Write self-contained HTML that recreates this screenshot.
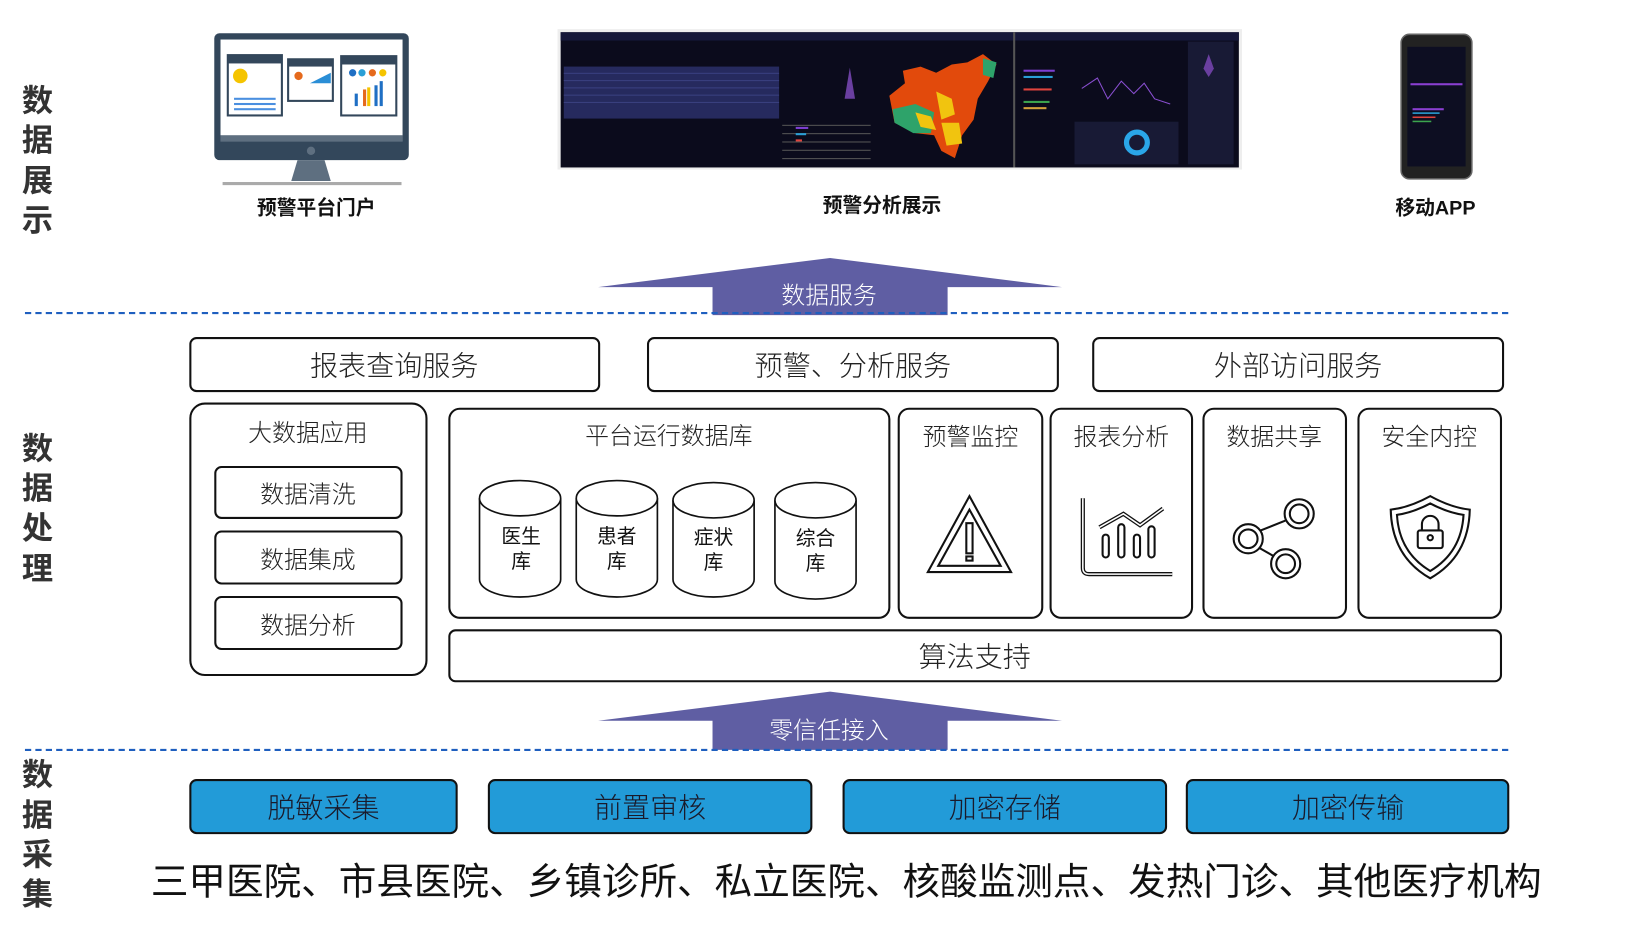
<!DOCTYPE html>
<html><head><meta charset="utf-8"><style>
html,body{margin:0;padding:0;background:#fff;}
svg{display:block;}
text{font-family:"Liberation Sans","Noto Sans CJK SC",sans-serif;}
.l{font-weight:300;}
</style></head><body>
<svg width="1631" height="934" viewBox="0 0 1568 898" preserveAspectRatio="none" xmlns="http://www.w3.org/2000/svg">
<rect width="1568" height="898" fill="#fff"/>
<g font-size="30" font-weight="bold" fill="#333" text-anchor="middle">
<text x="36" y="107">数</text><text x="36" y="145">据</text><text x="36" y="184">展</text><text x="36" y="222">示</text>
<text x="36" y="442">数</text><text x="36" y="480">据</text><text x="36" y="518">处</text><text x="36" y="557">理</text>
<text x="36" y="755">数</text><text x="36" y="794">据</text><text x="36" y="832">采</text><text x="36" y="870">集</text>
</g>
<!-- monitor -->
<rect x="206" y="32" width="187" height="122" rx="5" fill="#33475b"/>
<rect x="212" y="38" width="175" height="98" fill="#fff"/>
<rect x="212" y="130" width="175" height="6" fill="#5e6f80"/>
<circle cx="299" cy="145" r="4" fill="#5e6f80"/>
<path d="M286 154 L312 154 L318 174 L280 174 Z" fill="#5e6f80"/>
<rect x="214" y="175" width="172" height="3" fill="#aaa"/>
<rect x="219" y="53" width="52" height="58" fill="#fff" stroke="#33475b" stroke-width="2"/>
<rect x="219" y="53" width="52" height="8" fill="#33475b"/>
<circle cx="231" cy="73" r="7" fill="#f5c400"/>
<g fill="#4a8fe0"><rect x="225" y="94" width="40" height="2"/><rect x="225" y="99" width="40" height="2"/><rect x="225" y="104" width="40" height="2"/></g>
<rect x="277" y="57" width="43" height="40" fill="#fff" stroke="#33475b" stroke-width="2"/>
<rect x="277" y="57" width="43" height="7" fill="#33475b"/>
<path d="M298 80 L318 70 L318 80 Z" fill="#2a8ed6"/>
<circle cx="287" cy="73" r="4" fill="#e56a1d"/>
<rect x="328" y="54" width="53" height="57" fill="#fff" stroke="#33475b" stroke-width="2"/>
<rect x="328" y="54" width="53" height="8" fill="#33475b"/>
<g fill="#1f6fc4"><rect x="341" y="90" width="3" height="12"/><rect x="349" y="86" width="3" height="16" fill="#e56a1d"/><rect x="353" y="84" width="3" height="18" fill="#f5c400"/><rect x="360" y="82" width="3" height="20"/><rect x="365" y="78" width="3" height="24"/></g>
<g fill="#1f6fc4"><circle cx="339" cy="70" r="3.5"/><circle cx="348" cy="70" r="3.5" fill="#2a9fd6"/><circle cx="358" cy="70" r="3.5" fill="#e56a1d"/><circle cx="368" cy="70" r="3.5" fill="#f5c400"/></g>
<text x="304" y="206" font-size="19" font-weight="bold" text-anchor="middle" fill="#111">预警平台门户</text>
<!-- dashboard -->
<rect x="536" y="28" width="658" height="135" fill="#ddd" opacity="0.5"/>
<rect x="539" y="31" width="652" height="130" fill="#0b0b1c"/>
<rect x="539" y="31" width="652" height="8" fill="#16183a"/>
<rect x="542" y="64" width="207" height="50" fill="#262a5e"/>
<g fill="#3a4080"><rect x="542" y="70" width="207" height="1"/><rect x="542" y="77" width="207" height="1"/><rect x="542" y="84" width="207" height="1"/><rect x="542" y="91" width="207" height="1"/><rect x="542" y="98" width="207" height="1"/></g>
<rect x="974" y="31" width="2" height="130" fill="#555"/>
<g fill="#555"><rect x="752" y="120" width="85" height="1"/><rect x="752" y="128" width="85" height="1"/><rect x="752" y="136" width="85" height="1"/><rect x="752" y="144" width="85" height="1"/><rect x="752" y="152" width="85" height="1"/></g>
<path d="M855 92 L870 80 L868 68 L885 64 L900 70 L915 62 L930 60 L945 52 L958 62 L950 78 L940 95 L936 115 L925 130 L918 152 L905 145 L898 130 L880 128 L860 118 Z" fill="#e24a0c"/>
<path d="M858 105 L880 100 L898 108 L895 128 L878 128 L860 118 Z" fill="#2ea36a"/>
<path d="M900 88 L915 95 L918 110 L905 115 Z" fill="#f1c40f"/>
<path d="M945 56 L958 60 L955 75 L945 72 Z" fill="#2ea36a"/>
<path d="M905 118 L922 118 L925 138 L910 140 Z" fill="#f1c40f"/>
<path d="M880 108 L895 112 L900 125 L885 122 Z" fill="#f1c40f"/>
<g fill="#7d3fd1"><rect x="765" y="122" width="12" height="2"/><rect x="984" y="67" width="30" height="2"/></g>
<g fill="#2a9fd6"><rect x="765" y="128" width="10" height="2"/><rect x="984" y="73" width="28" height="2"/></g>
<g fill="#e0443e"><rect x="984" y="85" width="27" height="2"/><rect x="765" y="134" width="6" height="2"/></g>
<g fill="#3ca44e"><rect x="984" y="97" width="25" height="2"/></g>
<g fill="#d4a23b"><rect x="984" y="103" width="22" height="2"/></g>
<rect x="1142" y="40" width="44" height="118" fill="#181a35"/>
<rect x="1033" y="117" width="100" height="41" fill="#181a35"/>
<circle cx="1093" cy="137" r="10" fill="none" stroke="#2aa6e8" stroke-width="5"/>
<path d="M1040 85 L1055 75 L1065 95 L1078 78 L1090 90 L1100 80 L1110 95 L1125 100" stroke="#8a4fd1" fill="none" stroke-width="1"/>
<path d="M1162 52 L1167 66 L1162 74 L1157 66 Z" fill="#6a3fa0"/>
<path d="M817 65 L822 95 L812 95 Z" fill="#6a3fa0"/>
<text x="848" y="204" font-size="19" font-weight="bold" text-anchor="middle" fill="#111">预警分析展示</text>
<!-- phone -->
<rect x="1347" y="33" width="68" height="139" rx="8" fill="#222" stroke="#666" stroke-width="1.5"/>
<rect x="1353" y="45" width="56" height="115" fill="#0d0e22"/>
<g fill="#8a3fd1"><rect x="1356" y="80" width="50" height="2"/><rect x="1358" y="104" width="30" height="2"/></g>
<rect x="1358" y="108" width="26" height="1.5" fill="#2a9fd6"/>
<rect x="1358" y="112" width="22" height="1.5" fill="#e0443e"/>
<rect x="1358" y="116" width="18" height="1.5" fill="#3ca44e"/>
<text x="1380" y="206" font-size="19" font-weight="bold" text-anchor="middle" fill="#111">移动APP</text>
<path d="M575 276 L798 248 L1021 276 L911 276 L911 303 L685 303 L685 276 Z" fill="#5f5ea3"/>
<text x="797" y="292" font-size="23" fill="#fff" text-anchor="middle" class="l">数据服务</text>
<line x1="24" y1="301" x2="1450" y2="301" stroke="#1f5fbf" stroke-width="2" stroke-dasharray="6,4"/>
<g fill="#fff" stroke="#111" stroke-width="2">
<rect x="183" y="325" width="393" height="51" rx="6"/>
<rect x="623" y="325" width="394" height="51" rx="6"/>
<rect x="1051" y="325" width="394" height="51" rx="6"/>
<rect x="183" y="388" width="227" height="261" rx="14"/>
<rect x="207" y="449" width="179" height="49" rx="6"/>
<rect x="207" y="511" width="179" height="50" rx="6"/>
<rect x="207" y="574" width="179" height="50" rx="6"/>
<rect x="432" y="393" width="423" height="201" rx="10"/>
<rect x="864" y="393" width="138" height="201" rx="10"/>
<rect x="1010" y="393" width="136" height="201" rx="10"/>
<rect x="1157" y="393" width="137" height="201" rx="10"/>
<rect x="1306" y="393" width="137" height="201" rx="10"/>
<rect x="432" y="606" width="1011" height="49" rx="6"/>
</g>
<g font-size="27" fill="#222" text-anchor="middle" class="l">
<text x="379" y="361">报表查询服务</text>
<text x="820" y="361">预警、分析服务</text>
<text x="1248" y="361">外部访问服务</text>
<text x="937" y="641">算法支持</text>
</g>
<g font-size="23" fill="#222" text-anchor="middle" class="l">
<text x="296" y="424">大数据应用</text>
<text x="296" y="483">数据清洗</text>
<text x="296" y="546">数据集成</text>
<text x="296" y="609">数据分析</text>
<text x="643" y="427">平台运行数据库</text>
<text x="933" y="428">预警监控</text>
<text x="1078" y="428">报表分析</text>
<text x="1225" y="428">数据共享</text>
<text x="1374" y="428">安全内控</text>
</g>
<g fill="#fff" stroke="#111" stroke-width="1.6">
<path d="M461 479 L461 557 A39 17 0 0 0 539 557 L539 479"/><ellipse cx="500" cy="479" rx="39" ry="17"/>
<path d="M554 479 L554 557 A39 17 0 0 0 632 557 L632 479"/><ellipse cx="593" cy="479" rx="39" ry="17"/>
<path d="M647 481 L647 557 A39 17 0 0 0 725 557 L725 481"/><ellipse cx="686" cy="481" rx="39" ry="17"/>
<path d="M745 481 L745 559 A39 17 0 0 0 823 559 L823 481"/><ellipse cx="784" cy="481" rx="39" ry="17"/>
</g>
<g font-size="19" fill="#111" text-anchor="middle">
<text x="501" y="522">医生</text><text x="501" y="546">库</text>
<text x="593" y="522">患者</text><text x="593" y="546">库</text>
<text x="686" y="523">症状</text><text x="686" y="547">库</text>
<text x="784" y="524">综合</text><text x="784" y="548">库</text>
</g>
<g fill="none" stroke="#111" stroke-width="2">
<path d="M932 477 L972 550 L892 550 Z"/><path d="M932 490 L962 544 L902 544 Z"/>
<rect x="929" y="503" width="6" height="29"/><rect x="929" y="535" width="6" height="4"/>
<path d="M1041 479 L1041 546 Q1041 552 1047 552 L1127 552" stroke-width="4"/><path d="M1041 479 L1041 546 Q1041 552 1047 552 L1127 552" stroke="#fff" stroke-width="1.5"/>
<path d="M1057 507 L1080 494 L1096 505 L1118 489" stroke-width="4"/><path d="M1057 507 L1080 494 L1096 505 L1118 489" stroke="#fff" stroke-width="1.5"/>
<rect x="1060" y="514" width="6" height="22" rx="3"/><rect x="1075" y="504" width="6" height="32" rx="3"/><rect x="1090" y="514" width="6" height="22" rx="3"/><rect x="1104" y="506" width="6" height="30" rx="3"/>
<circle cx="1249" cy="494" r="14"/><circle cx="1249" cy="494" r="9"/>
<circle cx="1200" cy="518" r="14"/><circle cx="1200" cy="518" r="9"/>
<circle cx="1236" cy="542" r="14"/><circle cx="1236" cy="542" r="9"/>
<line x1="1212" y1="510" x2="1237" y2="500"/><line x1="1211" y1="527" x2="1225" y2="535"/>
<path d="M1375 477 Q1395 488 1413 490 Q1412 535 1375 556 Q1338 535 1337 490 Q1355 488 1375 477 Z"/>
<path d="M1375 484 Q1392 493 1407 495 Q1405 531 1375 549 Q1345 531 1343 495 Q1358 493 1375 484 Z"/>
<rect x="1363" y="510" width="24" height="17" rx="2"/><path d="M1367 510 L1367 504 A8 8 0 0 1 1383 504 L1383 510"/>
<circle cx="1375" cy="517" r="2.5"/>
</g>
<path d="M575 693 L798 665 L1021 693 L911 693 L911 721 L685 721 L685 693 Z" fill="#5f5ea3"/>
<text x="797" y="710" font-size="23" fill="#fff" text-anchor="middle" class="l">零信任接入</text>
<line x1="24" y1="721" x2="1450" y2="721" stroke="#1f5fbf" stroke-width="2" stroke-dasharray="6,4"/>
<g fill="#229bd8" stroke="#111" stroke-width="2">
<rect x="183" y="750" width="256" height="51" rx="6"/>
<rect x="470" y="750" width="310" height="51" rx="6"/>
<rect x="811" y="750" width="310" height="51" rx="6"/>
<rect x="1141" y="750" width="309" height="51" rx="6"/>
</g>
<g font-size="27" fill="#1a1a2a" text-anchor="middle" class="l">
<text x="311" y="786">脱敏采集</text>
<text x="625" y="786">前置审核</text>
<text x="966" y="786">加密存储</text>
<text x="1296" y="786">加密传输</text>
</g>
<text x="145" y="860" font-size="36" fill="#111" textLength="1337" lengthAdjust="spacingAndGlyphs">三甲医院、市县医院、乡镇诊所、私立医院、核酸监测点、发热门诊、其他医疗机构</text>
</svg>
</body></html>
